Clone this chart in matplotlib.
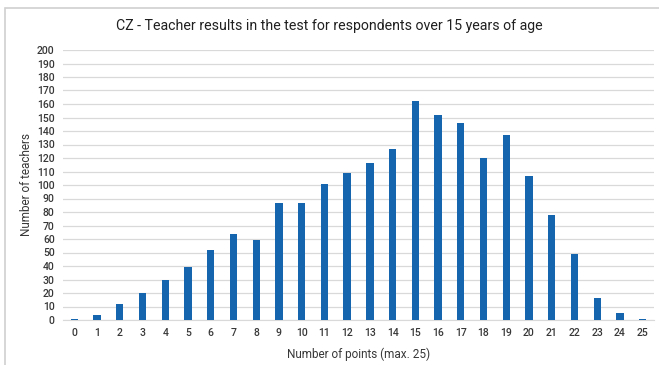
import matplotlib
matplotlib.use("Agg")
from matplotlib import pyplot as plt
from matplotlib.patches import Rectangle
import numpy as np

# Test scores (points) and number of teachers per score
POINTS = list(range(26))
TEACHERS = [1, 4, 12, 20, 30, 39, 52, 64, 59, 87, 87, 101, 109, 116, 127,
            162, 152, 146, 120, 137, 107, 78, 49, 16, 5, 1]
Y_TICKS = list(range(0, 201, 10))

TITLE = "CZ - Teacher results in the test for respondents over 15 years of age"
X_LABEL = "Number of points (max. 25)"
Y_LABEL = "Number of teachers"

BAR_COLOR = "#1565ae"
GRID_COLOR = "#d9d9d9"
TEXT_COLOR = "#383838"

plt.rcParams["font.family"] = ["Roboto", "DejaVu Sans"]

W, H = 659, 365
fig = plt.figure(figsize=(W / 100, H / 100), dpi=100)
fig.patch.set_facecolor("white")

# chart frame, runs off the bottom and right of the image
frame = Rectangle((5 / W, -20 / H), 700 / W, (H - 8 + 20) / H,
                  transform=fig.transFigure, facecolor="none",
                  edgecolor="#d0d0d0", linewidth=1.2, zorder=-1)
fig.patches.append(frame)

ax = fig.add_axes([63 / W, 1 - 320 / H, (654 - 63) / W, (320 - 50) / H])
ax.set_facecolor("none")
x = np.arange(len(POINTS))
ax.bar(x, TEACHERS, width=0.32, color=BAR_COLOR, zorder=3)

ax.set_xlim(-0.5, len(POINTS) - 0.5)
ax.set_ylim(0, 200)
ax.set_yticks(Y_TICKS)
ax.set_xticks(x)
ax.set_xticklabels([str(p) for p in POINTS])
ax.grid(axis="y", color=GRID_COLOR, linewidth=0.9, zorder=0)
ax.tick_params(length=0, labelsize=7.5, colors=TEXT_COLOR, pad=6)
for lbl in ax.get_xticklabels() + ax.get_yticklabels():
    lbl.set_fontweight("medium")
for side in ("top", "right", "left"):
    ax.spines[side].set_visible(False)
ax.spines["bottom"].set_color(GRID_COLOR)

ax.set_xlabel(X_LABEL, fontsize=8.5, color=TEXT_COLOR, labelpad=7)
ax.set_ylabel(Y_LABEL, fontsize=8.5, color=TEXT_COLOR, labelpad=3)
fig.text(0.5, 1 - 26 / H, TITLE, ha="center", va="center",
         fontsize=10.2, color="#202020")

fig.savefig("out.png", dpi=100)
